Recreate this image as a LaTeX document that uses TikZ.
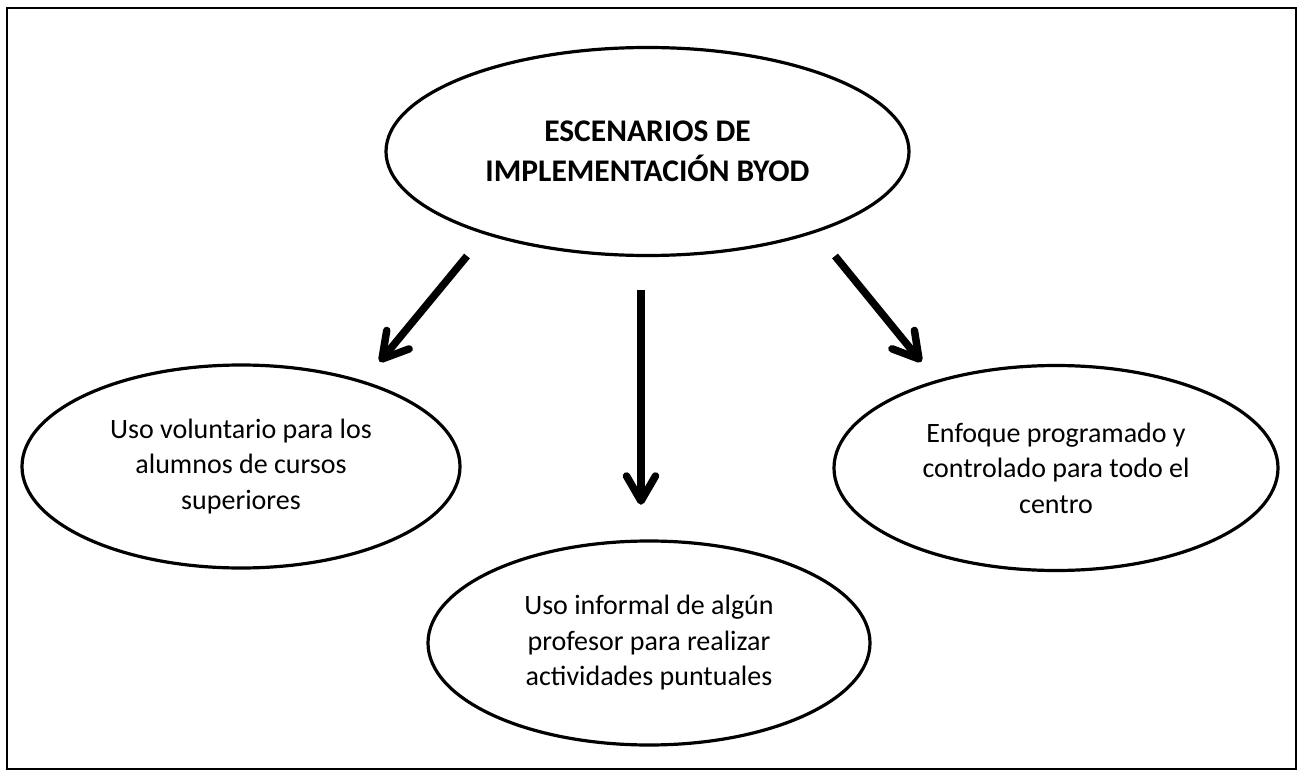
\documentclass[tikz,border=0pt]{standalone}
\usepackage{fontspec}
\setmainfont{Carlito}
\usetikzlibrary{calc,shapes.geometric}
\begin{document}
\begin{tikzpicture}[x=1pt,y=-1pt,
  oval/.style={draw, ellipse, line width=3.2pt, inner sep=0pt, align=center,
    font=\fontsize{28}{35.5}\selectfont},
  shaft/.style={line width=7.5pt, line cap=butt},
  barb/.style={line width=7.5pt, line cap=round, line join=round}]
\useasboundingbox (0,0) rectangle (1302,776);
\draw[line width=2pt] (7,8) rectangle (1296,769);
\node[oval, minimum width=523pt, minimum height=208pt,
  font=\bfseries\fontsize{31.5}{39.5}\selectfont] (top) at (647.5,151.5)
  {ESCENARIOS DE\\IMPLEMENTACIÓN BYOD};
\node[oval, minimum width=438pt, minimum height=203pt] (left) at (241,466.5)
  {Uso voluntario para los\\alumnos de cursos\\superiores};
\node[oval, minimum width=442pt, minimum height=204pt] (mid) at (649,643)
  {Uso informal de algún\\profesor para realizar\\actividades puntuales};
\node[oval, minimum width=444pt, minimum height=205pt] (right) at (1056,468)
  {Enfoque programado y\\controlado para todo el\\centro};
\coordinate (l0) at (467,256);
\coordinate (l1) at (382,359);
\coordinate (m0) at (641,290);
\coordinate (m1) at (641,501);
\coordinate (r0) at (835,256);
\coordinate (r1) at (919,359);
\foreach \s/\e in {l0/l1, m0/m1, r0/r1}{
  \coordinate (\e b) at ($(\e)!25pt!(\s)$);
  \draw[shaft] (\s) -- ($(\e)!3pt!(\s)$);
  \draw[barb] ($(\e b)!14.5pt!90:(\e)$) -- (\e) -- ($(\e b)!14.5pt!-90:(\e)$);
}
\end{tikzpicture}
\end{document}
